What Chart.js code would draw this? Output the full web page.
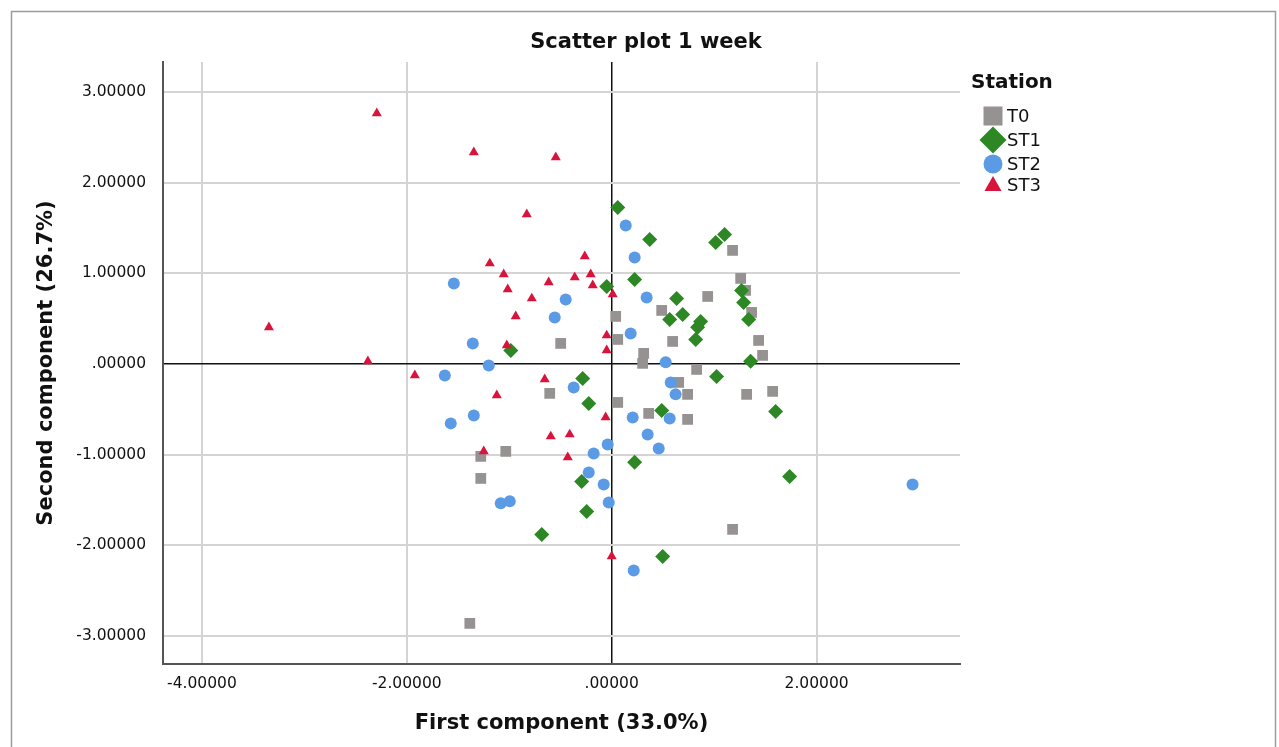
<!DOCTYPE html>
<html>
<head>
<meta charset="utf-8">
<title>Scatter plot 1 week</title>
<script src="https://cdn.jsdelivr.net/npm/chart.js@4.4.1/dist/chart.umd.min.js"></script>
<style>
  html, body { margin: 0; padding: 0; background: #ffffff; }
  #wrap { position: relative; width: 1279px; height: 747px; }
  canvas { display: block; }
</style>
</head>
<body>
<div id="wrap"><canvas id="chart" width="1279" height="747"></canvas></div>
<script>
// Station scores on the first two principal components
const stationNames = ['T0', 'ST1', 'ST2', 'ST3'];

const t0X = [1.180, 1.259, 1.307, 1.366, 1.434, 1.473, 0.937, 0.488, 0.039, 0.059, 0.595, 0.312, 0.302, 0.829,
             0.654, 0.741, 1.317, 1.571, 0.059, 0.361, 0.741, 1.180, -0.498, -0.605, -1.278, -1.034, -1.278, -1.385];
const t0Y = [1.252, 0.943, 0.811, 0.568, 0.259, 0.094, 0.744, 0.590, 0.524, 0.270, 0.248, 0.116, 0.006, -0.061,
             -0.204, -0.336, -0.336, -0.303, -0.425, -0.546, -0.612, -1.825, 0.226, -0.325, -1.020, -0.965, -1.263, -2.862];

const st1X = [0.059, 0.371, 1.015, 1.102, 0.224, -0.049, 0.634, 0.693, 0.566, 0.868, 0.839, 0.820, 1.268, 1.288,
              1.337, 1.356, 1.024, -0.985, -0.283, 0.488, 1.600, -0.224, 0.224, 1.737, -0.293, -0.244, -0.683, 0.498];
const st1Y = [1.726, 1.373, 1.340, 1.428, 0.932, 0.855, 0.722, 0.546, 0.491, 0.469, 0.403, 0.270, 0.811, 0.678,
              0.491, 0.028, -0.138, 0.149, -0.160, -0.513, -0.524, -0.436, -1.086, -1.241, -1.296, -1.627, -1.881, -2.123];

const st2X = [0.137, 0.224, 0.341, 0.185, 0.527, 0.576, 0.624, 0.205, 0.566, 0.351, -0.039, 0.459, -0.078, -0.029,
              0.215, 2.937, -1.541, -0.449, -0.556, -1.356, -1.200, -1.629, -0.371, -1.346, -1.571, -0.176, -0.224,
              -1.083, -0.995];
const st2Y = [1.527, 1.174, 0.733, 0.336, 0.017, -0.204, -0.336, -0.590, -0.601, -0.778, -0.888, -0.932, -1.329, -1.528,
              -2.278, -1.329, 0.888, 0.711, 0.513, 0.226, -0.017, -0.127, -0.259, -0.568, -0.656, -0.987, -1.197,
              -1.538, -1.516];

const st3X = [-2.293, -1.346, -0.546, -0.829, -3.346, -2.380, -1.922, -1.190, -1.054, -1.015, -0.780, -0.937, -0.615,
              -0.361, -0.263, -0.205, -0.185, 0.010, -0.049, -0.049, -1.024, -1.122, -0.654, -1.249, -0.595, -0.410,
              -0.429, -0.059, 0.000];
const st3Y = [2.763, 2.333, 2.278, 1.649, 0.403, 0.028, -0.127, 1.108, 0.988, 0.822, 0.722, 0.524, 0.899,
              0.954, 1.186, 0.987, 0.866, 0.767, 0.314, 0.149, 0.204, -0.347, -0.171, -0.965, -0.800, -0.778,
              -1.031, -0.590, -2.123];

const xTickValues = [-4, -2, 0, 2];
const yTickValues = [-3, -2, -1, 0, 1, 2, 3];

const colors = { T0: '#969292', ST1: '#2c8724', ST2: '#5b9be6', ST3: '#d8143c' };
const FONT = '"DejaVu Sans", Verdana, sans-serif';

function toPoints(xs, ys) {
  return xs.map((x, i) => ({ x: x, y: ys[i] }));
}

// SPSS-style number format: 0 -> ".00000", 2 -> "2.00000"
function fmt(v) {
  if (Math.abs(v) < 1e-9) return '.00000';
  return v.toFixed(5);
}

const frameAndLegend = {
  id: 'frameAndLegend',
  beforeDraw(chart) {
    const ctx = chart.ctx;
    ctx.save();
    ctx.fillStyle = '#ffffff';
    ctx.fillRect(0, 0, chart.width, chart.height);
    ctx.strokeStyle = '#9c9c9c';
    ctx.lineWidth = 1.5;
    ctx.strokeRect(11.5, 11.5, 1264, 760);
    ctx.restore();
  },
  afterDraw(chart) {
    const ctx = chart.ctx;
    ctx.save();
    // chart title
    ctx.fillStyle = '#111111';
    ctx.font = 'bold 21px ' + FONT;
    ctx.textAlign = 'center';
    ctx.textBaseline = 'middle';
    ctx.fillText('Scatter plot 1 week', 646, 43);

    // legend
    ctx.textAlign = 'left';
    ctx.font = 'bold 20px ' + FONT;
    ctx.fillText('Station', 971, 83);
    const mx = 993;
    const rows = [116, 140, 164, 185];
    ctx.font = '18px ' + FONT;
    stationNames.forEach((name, i) => {
      const y = rows[i];
      ctx.fillStyle = colors[name];
      ctx.beginPath();
      if (name === 'T0') {
        ctx.rect(mx - 9.5, y - 9.5, 19, 19);
      } else if (name === 'ST1') {
        ctx.moveTo(mx, y - 13.5); ctx.lineTo(mx + 13.5, y); ctx.lineTo(mx, y + 13.5); ctx.lineTo(mx - 13.5, y);
        ctx.closePath();
      } else if (name === 'ST2') {
        ctx.arc(mx, y, 9.5, 0, Math.PI * 2);
      } else {
        ctx.moveTo(mx, y - 9); ctx.lineTo(mx + 8.5, y + 6); ctx.lineTo(mx - 8.5, y + 6);
        ctx.closePath();
      }
      ctx.fill();
      ctx.fillStyle = '#111111';
      ctx.fillText(name, 1007, y + 1);
    });
    ctx.restore();
  }
};

const gridColor = (c) => (c.tick && c.tick.value === 0) ? '#111111' : '#d4d4d4';
const gridWidth = (c) => (c.tick && c.tick.value === 0) ? 1.5 : 2;

new Chart(document.getElementById('chart'), {
  type: 'scatter',
  data: {
    datasets: [
      { label: 'T0', data: toPoints(t0X, t0Y), pointStyle: 'rect', pointRadius: 7.6, pointHoverRadius: 7.6,
        backgroundColor: colors.T0, borderColor: colors.T0, borderWidth: 0, order: 4 },
      { label: 'ST1', data: toPoints(st1X, st1Y), pointStyle: 'rectRot', pointRadius: 7.5, pointHoverRadius: 7.5,
        backgroundColor: colors.ST1, borderColor: colors.ST1, borderWidth: 0, order: 3 },
      { label: 'ST2', data: toPoints(st2X, st2Y), pointStyle: 'circle', pointRadius: 6, pointHoverRadius: 6,
        backgroundColor: colors.ST2, borderColor: colors.ST2, borderWidth: 0, order: 2 },
      { label: 'ST3', data: toPoints(st3X, st3Y), pointStyle: 'triangle', pointRadius: 5.8, pointHoverRadius: 5.8,
        backgroundColor: colors.ST3, borderColor: colors.ST3, borderWidth: 0, order: 1 }
    ]
  },
  options: {
    responsive: false,
    animation: false,
    devicePixelRatio: 1,
    layout: { padding: { left: 0, top: 62, right: 319, bottom: 0 } },
    plugins: {
      legend: { display: false },
      title: { display: false },
      tooltip: { enabled: false }
    },
    scales: {
      x: {
        type: 'linear',
        min: -4.38,
        max: 3.40,
        afterFit(scale) { scale.height = 83; },
        afterBuildTicks(scale) { scale.ticks = xTickValues.map(v => ({ value: v })); },
        ticks: {
          includeBounds: false,
          padding: 11,
          color: '#111111',
          font: { family: FONT, size: 15.5 },
          callback: (v) => fmt(v)
        },
        grid: { drawTicks: false, color: gridColor, lineWidth: gridWidth },
        border: { display: true, color: '#555555', width: 2 },
        title: {
          display: true,
          text: 'First component (33.0%)',
          color: '#111111',
          font: { family: FONT, size: 21, weight: 'bold' },
          padding: { top: 0, bottom: 11 }
        }
      },
      y: {
        type: 'linear',
        min: -3.31,
        max: 3.33,
        afterFit(scale) { scale.width = 163; },
        afterBuildTicks(scale) { scale.ticks = yTickValues.map(v => ({ value: v })); },
        ticks: {
          includeBounds: false,
          padding: 17,
          color: '#111111',
          font: { family: FONT, size: 15.5 },
          callback: (v) => fmt(v)
        },
        grid: { drawTicks: false, color: gridColor, lineWidth: gridWidth },
        border: { display: true, color: '#555555', width: 2 },
        title: {
          display: true,
          text: 'Second component (26.7%)',
          color: '#111111',
          font: { family: FONT, size: 21, weight: 'bold' },
          padding: { top: 34, bottom: 0 }
        }
      }
    }
  },
  plugins: [frameAndLegend]
});
</script>
</body>
</html>
